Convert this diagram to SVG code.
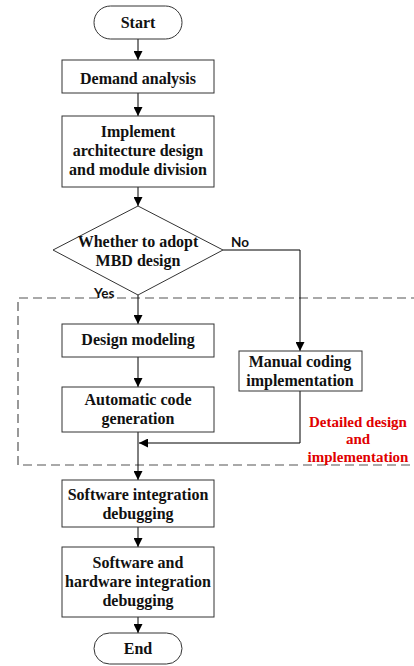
<svg xmlns="http://www.w3.org/2000/svg" width="414" height="666" viewBox="0 0 414 666">
  <defs>
    <marker id="arrow" viewBox="0 0 10 10" refX="10" refY="5" markerWidth="9" markerHeight="9" markerUnits="userSpaceOnUse" orient="auto">
      <path d="M0,0 L10,5 L0,10 Z" fill="#000"/>
    </marker>
    <style>
      .box { fill: #fff; stroke: #333; stroke-width: 1; }
      .lbl { font-family: "Liberation Serif", "Times New Roman", serif; font-weight: bold; font-size: 16px; fill: #111; text-anchor: middle; }
      .tag { font-family: Lato, "Liberation Sans", sans-serif; font-weight: bold; font-size: 13.5px; fill: #111; }
      .red { font-family: "Liberation Serif", "Times New Roman", serif; font-weight: bold; font-size: 15px; fill: #e00000; text-anchor: middle; }
      .line { fill: none; stroke: #000; stroke-width: 1; }
      .dash { fill: none; stroke: #555; stroke-width: 1.2; stroke-dasharray: 9 5; }
    </style>
  </defs>
  <rect width="414" height="666" fill="#fff"/>

  <!-- dashed region: detailed design and implementation -->
  <g id="region">
    <path class="dash" d="M420,298 H18 V465 H414"/>
    <text class="red" x="358" y="427">Detailed design</text>
    <text class="red" x="358" y="444">and</text>
    <text class="red" x="358" y="462">implementation</text>
  </g>

  <g id="connectors">
    <path class="line" d="M138,39 V60" marker-end="url(#arrow)"/>
    <path class="line" d="M138,93 V116" marker-end="url(#arrow)"/>
    <path class="line" d="M138,187 V206" marker-end="url(#arrow)"/>
    <path class="line" d="M138,295 V324" marker-end="url(#arrow)"/>
    <path class="line" d="M138,357 V387" marker-end="url(#arrow)"/>
    <path class="line" d="M138,432 V480" marker-end="url(#arrow)"/>
    <path class="line" d="M223,250 H300 V351" marker-end="url(#arrow)"/>
    <path class="line" d="M300,391 V443 H139" marker-end="url(#arrow)"/>
    <path class="line" d="M138,527 V547" marker-end="url(#arrow)"/>
    <path class="line" d="M138,617 V633" marker-end="url(#arrow)"/>
    <text class="tag" x="231" y="247">No</text>
    <text class="tag" x="94" y="298">Yes</text>
  </g>

  <g id="start">
    <rect class="box" x="94" y="6" width="88" height="33" rx="16.5"/>
    <text class="lbl" x="138" y="28">Start</text>
  </g>

  <g id="demand">
    <rect class="box" x="62" y="60" width="152" height="33"/>
    <text class="lbl" x="138" y="84">Demand analysis</text>
  </g>

  <g id="architecture">
    <rect class="box" x="62" y="116" width="152" height="71"/>
    <text class="lbl" x="138" y="137">Implement</text>
    <text class="lbl" x="138" y="156">architecture design</text>
    <text class="lbl" x="138" y="175">and module division</text>
  </g>

  <g id="decision">
    <polygon class="box" points="138,206 223,250 138,295 53,250"/>
    <text class="lbl" x="138" y="247">Whether to adopt</text>
    <text class="lbl" x="138" y="266">MBD design</text>
  </g>

  <g id="modeling">
    <rect class="box" x="62" y="324" width="152" height="33"/>
    <text class="lbl" x="138" y="345">Design modeling</text>
  </g>

  <g id="autocode">
    <rect class="box" x="62" y="387" width="152" height="45"/>
    <text class="lbl" x="138" y="405">Automatic code</text>
    <text class="lbl" x="138" y="424">generation</text>
  </g>

  <g id="manual">
    <rect class="box" x="239" y="351" width="123" height="40"/>
    <text class="lbl" x="300" y="367">Manual coding</text>
    <text class="lbl" x="300" y="386">implementation</text>
  </g>

  <g id="swint">
    <rect class="box" x="62" y="480" width="152" height="47"/>
    <text class="lbl" x="138" y="500">Software integration</text>
    <text class="lbl" x="138" y="519">debugging</text>
  </g>

  <g id="swhwint">
    <rect class="box" x="62" y="547" width="152" height="70"/>
    <text class="lbl" x="138" y="568">Software and</text>
    <text class="lbl" x="138" y="587">hardware integration</text>
    <text class="lbl" x="138" y="606">debugging</text>
  </g>

  <g id="end">
    <rect class="box" x="94" y="633" width="88" height="31" rx="15.5"/>
    <text class="lbl" x="138" y="654">End</text>
  </g>
</svg>
